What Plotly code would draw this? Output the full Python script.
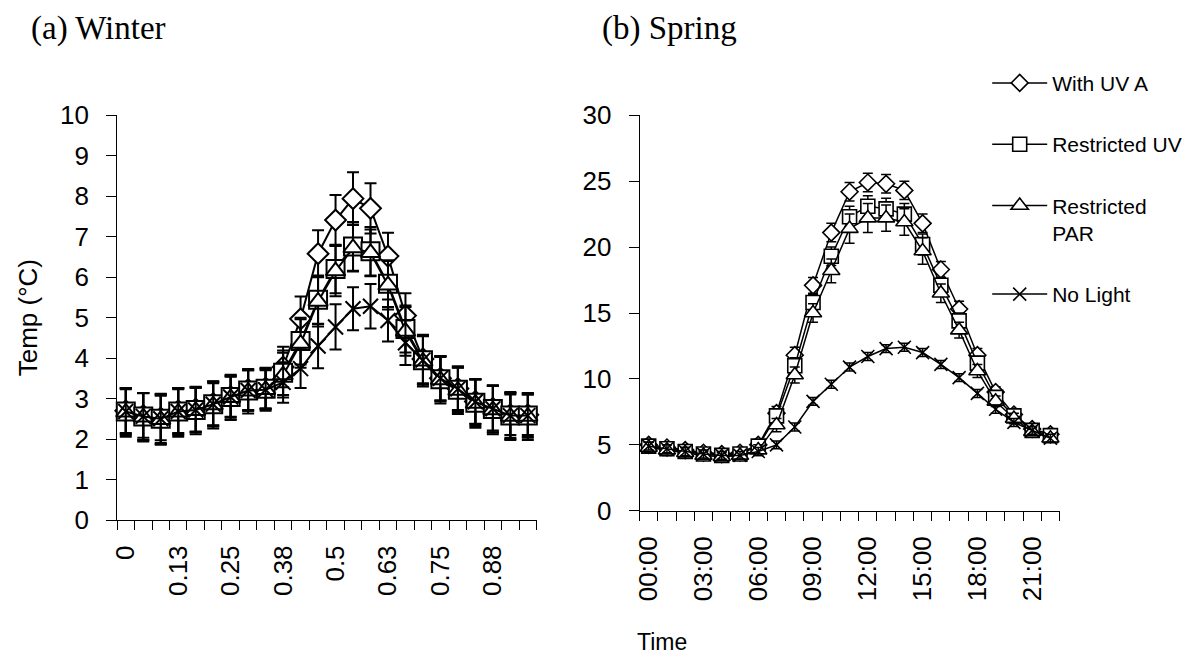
import plotly.graph_objects as go

# ---------------- data ----------------
winter_ticks = ["0", "0.13", "0.25", "0.38", "0.5", "0.63", "0.75", "0.88"]
spring_ticks = ["00:00", "03:00", "06:00", "09:00", "12:00", "15:00", "18:00", "21:00"]
series_names = ["With UV A", "Restricted UV", "Restricted<br>PAR", "No Light"]

winter_uva = [2.70, 2.58, 2.52, 2.70, 2.74, 2.88, 3.05, 3.22, 3.26, 3.78, 4.97, 6.58,
              7.41, 7.94, 7.70, 6.52, 5.05, 3.98, 3.50, 3.25, 2.93, 2.76, 2.60, 2.60]
winter_ruv = [2.68, 2.56, 2.50, 2.68, 2.72, 2.86, 3.04, 3.20, 3.24, 3.64, 4.42, 5.44,
              6.20, 6.76, 6.64, 5.84, 4.72, 3.95, 3.48, 3.22, 2.90, 2.74, 2.58, 2.58]
winter_rpar = [2.66, 2.54, 2.48, 2.66, 2.70, 2.84, 3.02, 3.18, 3.22, 3.58, 4.36, 5.40,
               6.15, 6.72, 6.60, 5.80, 4.66, 3.92, 3.46, 3.20, 2.88, 2.72, 2.56, 2.56]
winter_dark = [2.68, 2.56, 2.50, 2.68, 2.72, 2.86, 3.04, 3.20, 3.22, 3.40, 3.74, 4.30,
               4.77, 5.22, 5.28, 4.93, 4.38, 3.95, 3.50, 3.24, 2.92, 2.75, 2.58, 2.58]

winter_uva_err = [0.55, 0.55, 0.55, 0.55, 0.55, 0.55, 0.50, 0.50, 0.50, 0.50, 0.55, 0.58,
                  0.62, 0.65, 0.62, 0.58, 0.55, 0.60, 0.55, 0.55, 0.55, 0.55, 0.50, 0.50]
winter_ruv_err = [0.58, 0.58, 0.60, 0.58, 0.55, 0.55, 0.55, 0.50, 0.50, 0.55, 0.58, 0.60,
                  0.60, 0.60, 0.60, 0.58, 0.58, 0.60, 0.55, 0.55, 0.58, 0.58, 0.55, 0.55]
winter_rpar_err = [0.60, 0.60, 0.62, 0.60, 0.58, 0.58, 0.55, 0.55, 0.52, 0.55, 0.60, 0.62,
                   0.62, 0.58, 0.58, 0.60, 0.60, 0.62, 0.58, 0.58, 0.60, 0.60, 0.58, 0.58]
winter_dark_err = [0.55, 0.58, 0.62, 0.55, 0.55, 0.52, 0.50, 0.50, 0.48, 0.50, 0.48, 0.55,
                   0.56, 0.53, 0.55, 0.52, 0.55, 0.60, 0.55, 0.52, 0.55, 0.58, 0.58, 0.52]

spring_uva = [5.0, 4.8, 4.6, 4.4, 4.3, 4.4, 5.0, 7.4, 11.8, 17.1, 21.1, 24.2,
              24.9, 24.8, 24.3, 21.8, 18.3, 15.3, 11.8, 9.0, 7.3, 6.2, 5.8]
spring_ruv = [4.9, 4.7, 4.5, 4.3, 4.2, 4.3, 4.9, 7.2, 11.0, 15.8, 19.3, 22.3,
              23.1, 22.9, 22.5, 20.2, 17.1, 14.4, 11.2, 8.6, 7.2, 6.1, 5.7]
spring_rpar = [4.8, 4.6, 4.4, 4.2, 4.1, 4.2, 4.6, 6.5, 10.3, 15.0, 18.2, 21.4,
               22.2, 22.2, 21.9, 19.7, 16.5, 13.7, 10.6, 8.3, 7.0, 6.0, 5.5]
spring_dark = [4.9, 4.7, 4.5, 4.3, 4.2, 4.2, 4.5, 5.0, 6.35, 8.3, 9.6, 10.9,
               11.7, 12.3, 12.4, 12.0, 11.1, 10.1, 8.9, 7.7, 6.7, 6.1, 5.5]

spring_uva_err = [0.4, 0.4, 0.4, 0.3, 0.3, 0.3, 0.4, 0.5, 0.6, 0.6, 0.7, 0.7,
                  0.7, 0.7, 0.7, 0.7, 0.6, 0.6, 0.5, 0.4, 0.4, 0.3, 0.3]
spring_ruv_err = [0.4, 0.4, 0.4, 0.3, 0.3, 0.3, 0.4, 0.5, 0.6, 0.6, 0.7, 0.8,
                  0.8, 0.8, 0.8, 0.8, 0.6, 0.6, 0.5, 0.4, 0.4, 0.3, 0.3]
spring_rpar_err = [0.4, 0.4, 0.4, 0.3, 0.3, 0.3, 0.4, 0.5, 0.6, 0.7, 0.9, 1.1,
                   1.1, 1.0, 1.0, 1.0, 0.7, 0.6, 0.5, 0.4, 0.4, 0.3, 0.3]
spring_dark_err = [0.3, 0.3, 0.3, 0.3, 0.3, 0.3, 0.3, 0.3, 0.3, 0.3, 0.3, 0.3,
                   0.3, 0.3, 0.3, 0.3, 0.3, 0.3, 0.3, 0.3, 0.3, 0.3, 0.3]

# ---------------- figure ----------------
W, H = 1189, 662
SANS = "Liberation Sans, Arial, sans-serif"
SERIF = "Liberation Serif, Times New Roman, serif"

symbols = ["diamond", "square", "triangle-up", "x-thin"]

fig = go.Figure()

winter_sets = [(winter_uva, winter_uva_err), (winter_ruv, winter_ruv_err),
               (winter_rpar, winter_rpar_err), (winter_dark, winter_dark_err)]
spring_sets = [(spring_uva, spring_uva_err), (spring_ruv, spring_ruv_err),
               (spring_rpar, spring_rpar_err), (spring_dark, spring_dark_err)]

w_sizes = [16, 18, 17, 15]
s_sizes = [13, 14, 15, 13]

for k, (vals, errs) in enumerate(winter_sets):
    fig.add_trace(go.Scatter(
        x=list(range(len(vals))), y=vals, mode="lines+markers",
        name=series_names[k], showlegend=False, legendgroup=str(k),
        line=dict(color="black", width=2),
        marker=dict(symbol=symbols[k], size=w_sizes[k], color="white",
                    line=dict(color="black", width=2)),
        error_y=dict(type="data", array=errs, visible=True, color="black",
                     thickness=2, width=6),
        xaxis="x", yaxis="y", cliponaxis=False))

for k, (vals, errs) in enumerate(spring_sets):
    fig.add_trace(go.Scatter(
        x=list(range(len(vals))), y=vals, mode="lines+markers",
        name=series_names[k], showlegend=True, legendgroup=str(k),
        line=dict(color="black", width=1.5),
        marker=dict(symbol=symbols[k], size=s_sizes[k], color="white",
                    line=dict(color="black", width=1.6)),
        error_y=dict(type="data", array=errs, visible=True, color="black",
                     thickness=1.5, width=5),
        xaxis="x2", yaxis="y2", cliponaxis=False))

n_w = len(winter_uva)
n_s = len(spring_uva)

axis_common = dict(showline=True, linecolor="black", linewidth=1, showgrid=False,
                   zeroline=False, color="black")

fig.update_layout(
    width=W, height=H,
    margin=dict(l=0, r=0, t=0, b=0),
    paper_bgcolor="white", plot_bgcolor="white",
    font=dict(family=SANS, size=26, color="black"),
    xaxis=dict(**axis_common, domain=[110.7 / W, 532.7 / W], range=[-0.5, n_w - 0.5],
               tickmode="array", tickvals=list(range(0, n_w, 3)), ticktext=winter_ticks,
               tickangle=-90, ticks="", ticklabelstandoff=14,
               minor=dict(tickmode="array", tickvals=[i - 0.5 for i in range(n_w + 1)],
                          ticks="outside", ticklen=9, tickcolor="black", tickwidth=1),
               anchor="y"),
    yaxis=dict(**axis_common, domain=[1 - 529 / H, 1 - 105 / H], range=[0, 10],
               dtick=1, ticks="outside", ticklen=10, tickcolor="black",
               ticklabelstandoff=12,
               title=dict(text="Temp (°C)", standoff=14, font=dict(size=26)),
               anchor="x"),
    xaxis2=dict(**axis_common, domain=[636.3 / W, 1058.8 / W], range=[-0.5, n_s - 0.5],
                tickmode="array", tickvals=list(range(0, n_s, 3)), ticktext=spring_ticks,
                tickangle=-90, ticks="", ticklabelstandoff=14,
                minor=dict(tickmode="array", tickvals=[i - 0.5 for i in range(n_s + 1)],
                           ticks="outside", ticklen=9, tickcolor="black", tickwidth=1),
                anchor="y2"),
    yaxis2=dict(**axis_common, domain=[1 - 519.3 / H, 1 - 105 / H], range=[0, 30],
                dtick=5, ticks="outside", ticklen=10, tickcolor="black",
                ticklabelstandoff=12, anchor="x2"),
    legend=dict(x=986 / W, y=1 - 50 / H, xanchor="left", yanchor="top",
                font=dict(family=SANS, size=21, color="black"),
                tracegroupgap=31, valign="top", itemsizing="trace", itemwidth=55,
                bgcolor="rgba(0,0,0,0)", traceorder="grouped"),
    annotations=[
        dict(text="(a) Winter", x=22 / W, y=1 - 14 / H, xref="paper", yref="paper",
             xanchor="left", yanchor="middle", showarrow=False,
             font=dict(family=SERIF, size=33, color="black")),
        dict(text="(b) Spring", x=597 / W, y=1 - 14 / H, xref="paper", yref="paper",
             xanchor="left", yanchor="middle", showarrow=False,
             font=dict(family=SERIF, size=33, color="black")),
        dict(text="Time", x=632 / W, y=1 - 657 / H, xref="paper", yref="paper",
             xanchor="left", yanchor="middle", showarrow=False,
             font=dict(family=SANS, size=23, color="black")),
    ],
)

fig.write_html("out.html")
